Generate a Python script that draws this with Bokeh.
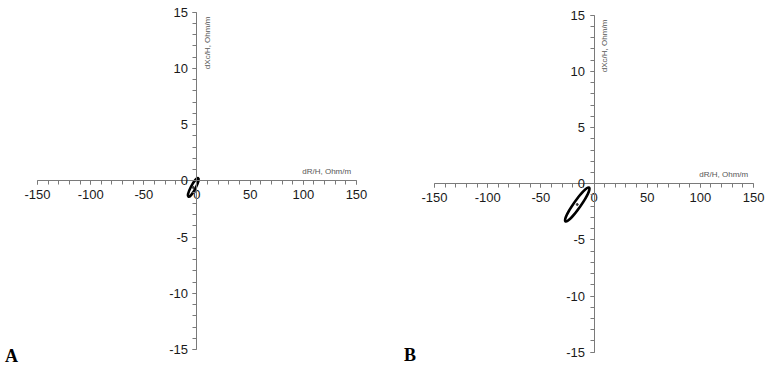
import math
from bokeh.plotting import figure
from bokeh.models import Range1d, SingleIntervalTicker, Label, PrintfTickFormatter
from bokeh.layouts import row
from bokeh.embed import file_html
from bokeh.resources import INLINE

# ---- data ----
panel_letters = ["A", "B"]
x_axis_title = "dR/H, Ohm/m"
y_axis_title = "dXc/H, Ohm/m"
x_limits = [-150, 150]
y_limits = [-15, 15]
x_major_step = 50
y_major_step = 5

# hodograph ellipses (centre, size along main axis in dR units, thickness in dXc units, tilt)
ellipse_center_dR = [-3.5, -15.75]
ellipse_center_dXc = [-0.59, -1.85]
ellipse_length_dR = [19.8, 38.9]
ellipse_width_dXc = [0.42, 0.64]
ellipse_tilt_deg = [62, 55]

# ---- layout: visible canvas window of each panel (in data units) ----
fig_widths = [385, 381]
FIG_H = 369
view_x = [(-184.8, 177.3), (-196.1, 162.2)]
view_y = [(-16.78, 16.04), (-16.54, 16.31)]
letter_pos = [(-180.6, -15.62), (-178.7, -15.29)]


def make_panel(i):
    w = fig_widths[i]
    p = figure(width=w, height=FIG_H,
               x_range=Range1d(*view_x[i]), y_range=Range1d(*view_y[i]),
               output_backend="svg", toolbar_location=None,
               min_border=0, outline_line_color=None,
               background_fill_color="white", border_fill_color="white")
    p.grid.visible = False

    p.xaxis.fixed_location = 0
    p.yaxis.fixed_location = 0
    p.xaxis.bounds = tuple(x_limits)
    p.yaxis.bounds = tuple(y_limits)
    p.xaxis.ticker = SingleIntervalTicker(interval=x_major_step, num_minor_ticks=5)
    p.yaxis.ticker = SingleIntervalTicker(interval=y_major_step, num_minor_ticks=5)
    for ax in (p.xaxis, p.yaxis):
        ax.formatter = PrintfTickFormatter(format="%d")
        ax.axis_line_color = "#7a7a7a"
        ax.axis_line_width = 1
        ax.major_tick_line_color = "#7a7a7a"
        ax.minor_tick_line_color = "#7a7a7a"
        ax.major_tick_in = 0
        ax.minor_tick_in = 0
        ax.major_tick_out = 4
        ax.minor_tick_out = 4
        ax.major_label_text_font = "Liberation Sans"
        ax.major_label_text_font_size = "13px"
        ax.major_label_text_color = "#1a1a1a"
        ax.major_label_standoff = 5

    # hodograph
    p.ellipse(x=[ellipse_center_dR[i]], y=[ellipse_center_dXc[i]],
              width=[ellipse_length_dR[i]], height=[ellipse_width_dXc[i]],
              angle=[math.radians(ellipse_tilt_deg[i])],
              fill_color=None, line_color="black", line_width=2.5)
    p.scatter(x=[ellipse_center_dR[i]], y=[ellipse_center_dXc[i]], size=2,
              color="#333333")

    # axis titles
    p.add_layout(Label(x=145, y=0.8, text=x_axis_title, text_align="right",
                       text_baseline="middle", text_font="Liberation Sans",
                       text_font_size="8px", text_color="#555555"))
    p.add_layout(Label(x=9.9, y=14.6, text=y_axis_title, text_align="right",
                       text_baseline="middle", angle=math.pi / 2,
                       text_font="Liberation Sans", text_font_size="8px",
                       text_color="#555555"))
    # panel letter
    lx, ly = letter_pos[i]
    p.add_layout(Label(x=lx, y=ly, text=panel_letters[i], text_align="left",
                       text_baseline="alphabetic", text_font="Liberation Serif",
                       text_font_style="bold", text_font_size="18px",
                       text_color="black"))
    return p


layout = row(make_panel(0), make_panel(1))
open("out.html", "w").write(file_html(layout, INLINE))
